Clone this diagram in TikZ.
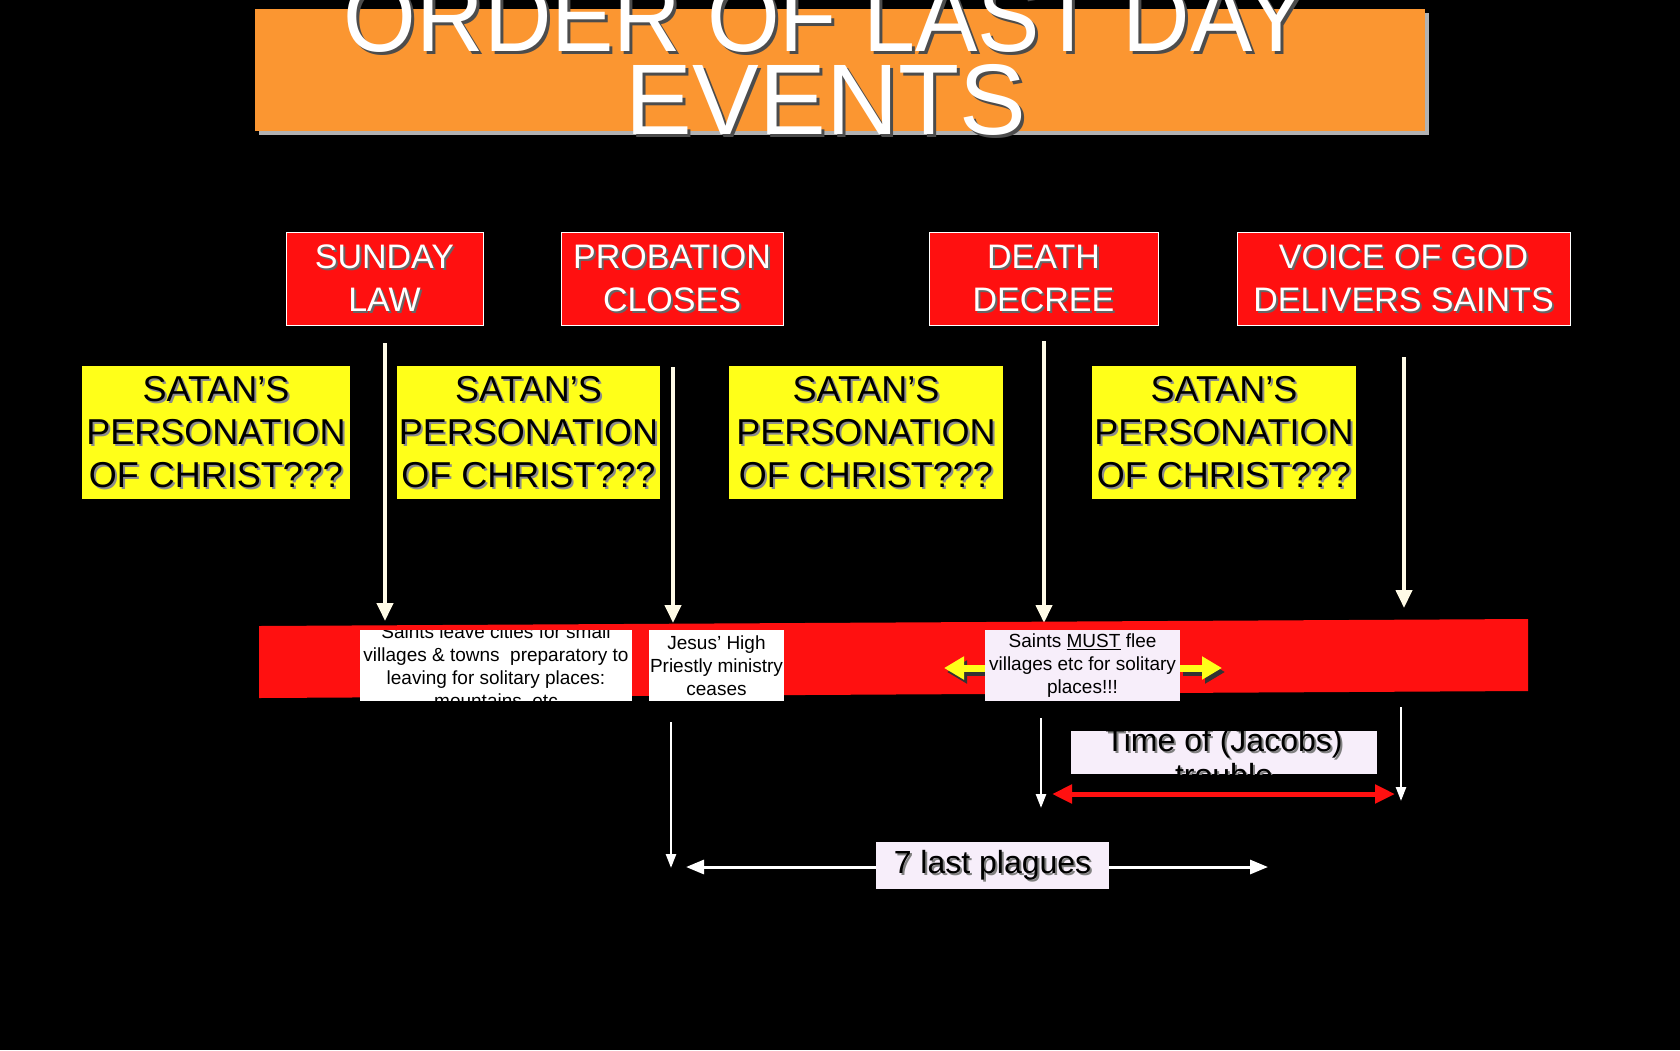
\documentclass[tikz,border=0pt]{standalone}
\usepackage{fontspec}
\setmainfont{Liberation Sans}
\usepackage{graphicx}
\usetikzlibrary{arrows.meta}
\definecolor{org}{HTML}{FB9631}
\definecolor{rd}{HTML}{FF1010}
\definecolor{yl}{HTML}{FFFF19}
\definecolor{cream}{HTML}{FFFBE6}
\definecolor{lav}{HTML}{F7EEFA}
\tikzset{
 redbox/.style={draw=white,line width=0.8pt,fill=rd,align=center,inner sep=0pt},
 ylbox/.style={fill=yl,align=center,inner sep=0pt},
 dn/.style={draw=cream,line width=4pt,-{Triangle[width=16pt,length=18pt]}},
 wdn/.style={draw=white,line width=2.5pt,-{Triangle[width=10pt,length=14pt]}},
}
\begin{document}
\begin{tikzpicture}[x=1pt,y=-1pt]
\useasboundingbox[fill=black] (0,0) rectangle (1680,1050);
% title
\fill[gray!60] (259,13) rectangle (1429,135);
\node[fill=org,minimum width=1170pt,minimum height=122pt,anchor=north west,inner sep=0] (title) at (255,9) {};
\begin{scope}
\clip (0,0) rectangle (1680,1050);
\node[anchor=base,text=black!70] at (829,54) {\resizebox{964pt}{70pt}{ORDER OF LAST DAY}};
\node[anchor=base,text=white] (t1) at (826,51) {\resizebox{964pt}{70pt}{ORDER OF LAST DAY}};
\node[anchor=base,text=black!70] at (829,137) {\resizebox{400pt}{70pt}{EVENTS}};
\node[anchor=base,text=white] (t2) at (826,134) {\resizebox{400pt}{70pt}{EVENTS}};
\end{scope}
% red top boxes
\tikzset{rt/.style={font=\fontsize{34}{43}\selectfont,text=white,align=center}}
\node[redbox,minimum width=197pt,minimum height=93pt] (b1) at (384.5,278.5) {};
\node[redbox,minimum width=222pt,minimum height=93pt] (b2) at (672,278.5) {};
\node[redbox,minimum width=229pt,minimum height=93pt] (b3) at (1043.5,278.5) {};
\node[redbox,minimum width=333pt,minimum height=93pt] (b4) at (1403.5,278.5) {};
\foreach \n/\t in {b1/{SUNDAY\\LAW},b2/{PROBATION\\CLOSES},b3/{DEATH\\DECREE},b4/{VOICE OF GOD\\DELIVERS SAINTS}}{
 \node[rt,text=black!60] at ([shift={(2,2)}]\n) {\t};
 \node[rt] at (\n) {\t};
}
% yellow boxes
\tikzset{yt/.style={font=\fontsize{36}{43}\selectfont,text=black,align=center}}
\foreach \n/\x/\w in {y1/216/268,y2/528.5/263,y3/866/274,y4/1224/264}{
 \node[ylbox,minimum width=\w pt,minimum height=133pt] (\n) at (\x,432.5) {};
 \node[yt,text=black!45] at ([shift={(2,2)}]\n) {SATAN’S\\PERSONATION\\OF CHRIST???};
 \node[yt] at (\n) {SATAN’S\\PERSONATION\\OF CHRIST???};
}
% down arrows
\coordinate (a1s) at (385,343); \coordinate (a1e) at (385,621);
\coordinate (a2s) at (673,367); \coordinate (a2e) at (673,623);
\coordinate (a3s) at (1044,341); \coordinate (a3e) at (1044,623);
\coordinate (a4s) at (1404,357); \coordinate (a4e) at (1404,608);
\draw[dn] (a1s) -- (a1e);
\draw[dn] (a2s) -- (a2e);
\draw[dn] (a3s) -- (a3e);
\draw[dn] (a4s) -- (a4e);
% red bar
\fill[rd] (259,626) -- (1528,619) -- (1528,691) -- (259,698) -- cycle;
% yellow arrows
\coordinate (yl1) at (986,668); \coordinate (yl2) at (944,668);
\coordinate (yr1) at (1180,668); \coordinate (yr2) at (1222,668);
\tikzset{ya/.style={line width=7pt,-{Triangle[width=22pt,length=20pt]}}}
\draw[ya,draw=black!80] ([shift={(3,4)}]yl1) -- ([shift={(3,4)}]yl2);
\draw[ya,draw=black!80] ([shift={(3,4)}]yr1) -- ([shift={(3,4)}]yr2);
\draw[ya,draw=yl] (yl1) -- (yl2);
\draw[ya,draw=yl] (yr1) -- (yr2);
% white boxes
\tikzset{wt/.style={font=\fontsize{19}{23}\selectfont,align=center,text=black}}
\begin{scope}
\node[fill=white,minimum width=272pt,minimum height=71pt,inner sep=0] (w1) at (496,665.5) {};
\clip (360,630) rectangle (632,701);
\node[wt] at (496,667) {Saints leave cities for small\\villages \& towns\ \ preparatory to\\leaving for solitary places:\\mountains, etc};
\end{scope}
\node[fill=white,minimum width=135pt,minimum height=71pt,inner sep=0,wt] (w2) at (716.5,665.5) {Jesus’ High\\Priestly ministry\\ceases};
\node[fill=lav,minimum width=195pt,minimum height=71pt,inner sep=0,wt] (w3) at (1082.5,665.5) {Saints \underline{MUST} flee\\villages etc for solitary\\places!!!};
% lower arrows
\coordinate (l1s) at (671,722); \coordinate (l1e) at (671,868);
\coordinate (l2s) at (1041,718); \coordinate (l2e) at (1041,808);
\coordinate (l3s) at (1401,707); \coordinate (l3e) at (1401,801);
\draw[wdn] (l1s) -- (l1e);
\draw[wdn] (l2s) -- (l2e);
\draw[wdn] (l3s) -- (l3e);
% time of trouble
\begin{scope}
\node[fill=lav,minimum width=306pt,minimum height=43pt,inner sep=0] (tt) at (1224,752.5) {};
\clip (1071,731) rectangle (1377,774);
\node[anchor=base,font=\fontsize{32}{35}\selectfont,text=black!50] at (1226,753) {Time of (Jacobs)};
\node[anchor=base,font=\fontsize{32}{35}\selectfont] at (1224,751) {Time of (Jacobs)};
\node[anchor=base,font=\fontsize{32}{35}\selectfont,text=black!50] at (1226,788) {trouble};
\node[anchor=base,font=\fontsize{32}{35}\selectfont] at (1224,786) {trouble};
\end{scope}
\coordinate (r1) at (1052,794); \coordinate (r2) at (1395,794);
\draw[draw=rd,line width=5pt,{Triangle[width=18pt,length=20pt]}-{Triangle[width=18pt,length=20pt]}] (r1) -- (r2);
% plagues
\coordinate (p1) at (686,867); \coordinate (p2) at (1268,867);
\draw[draw=white,line width=3pt,{Triangle[width=14pt,length=18pt]}-{Triangle[width=14pt,length=18pt]}] (p1) -- (p2);
\node[fill=lav,minimum width=233pt,minimum height=47pt,inner sep=0] (pl) at (992.5,865.5) {};
\node[font=\fontsize{32}{38}\selectfont,text=black!50] at (994.5,867.5) {7 last plagues};
\node[font=\fontsize{32}{38}\selectfont] at (pl) {7 last plagues};
\end{tikzpicture}
\end{document}
